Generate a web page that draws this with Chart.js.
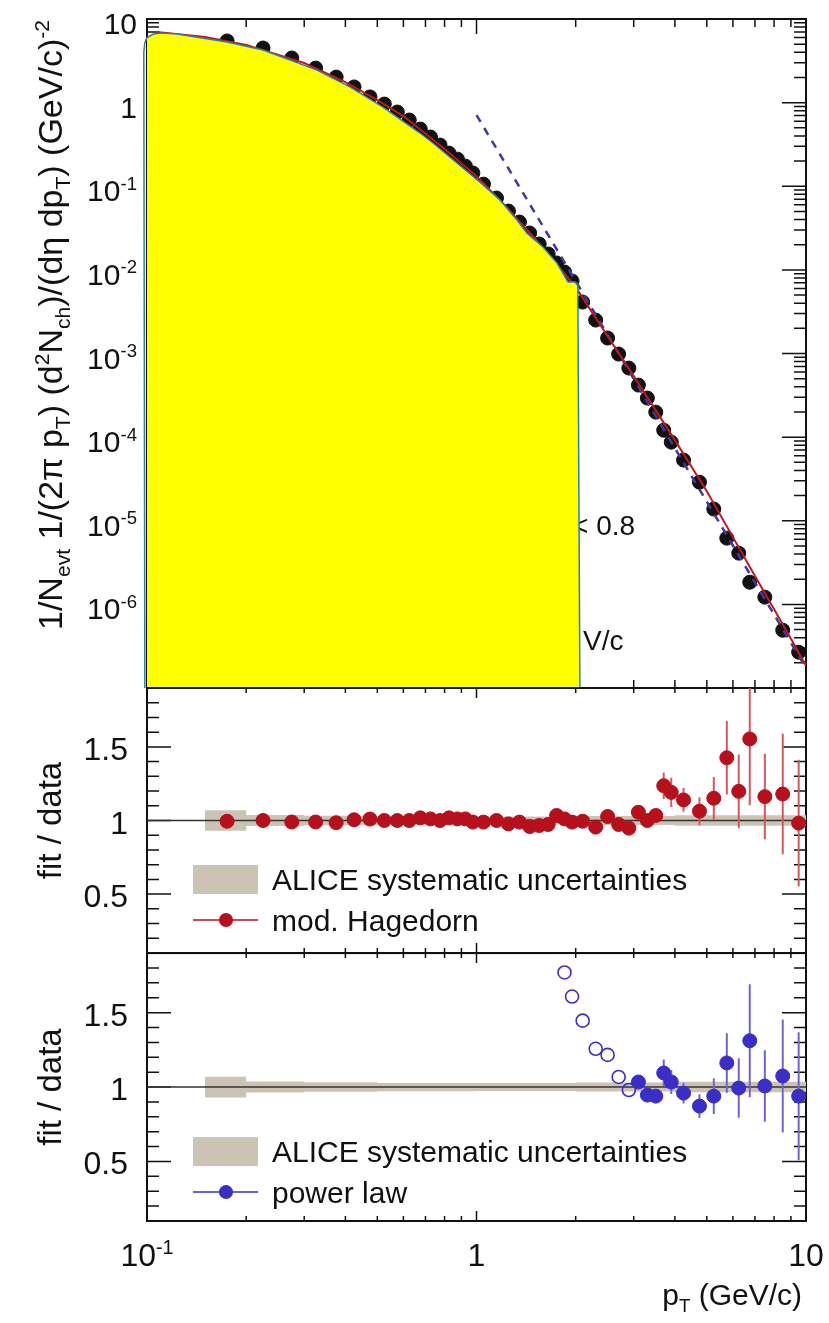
<!DOCTYPE html>
<html>
<head>
<meta charset="utf-8">
<script src="https://cdn.jsdelivr.net/npm/chart.js@4.4.1/dist/chart.umd.min.js"></script>
<style>
  html, body { margin: 0; padding: 0; background: #fff; }
  #wrap { position: relative; width: 829px; height: 1323px; overflow: hidden; }
  #wrap canvas { position: absolute; left: 0; }
</style>
</head>
<body>
<div id="wrap">
  <canvas id="spectrumChart" width="829" height="700" style="top:0px"></canvas>
  <canvas id="hagedornChart" width="829" height="290" style="top:680px"></canvas>
  <canvas id="powerLawChart" width="829" height="378" style="top:945px"></canvas>
</div>
<script>
// ---- values ----
var pT = [0.175, 0.225, 0.275, 0.325, 0.375, 0.425, 0.475, 0.525, 0.575, 0.625, 0.675, 0.725, 0.775, 0.825, 0.875, 0.925, 0.975,
  1.05, 1.15, 1.25, 1.35, 1.45, 1.55, 1.65, 1.75, 1.85, 1.95,
  2.1, 2.3, 2.5, 2.7, 2.9, 3.1, 3.3, 3.5, 3.7, 3.9,
  4.25, 4.75, 5.25, 5.75, 6.25, 6.75, 7.5, 8.5, 9.5];

var spectrum = [5.46, 4.50, 3.42, 2.59, 2.02, 1.54, 1.17, 0.962, 0.772, 0.619, 0.483, 0.388, 0.311, 0.249, 0.211, 0.174, 0.144,
  0.106, 0.0723, 0.0505, 0.0373, 0.0276, 0.0204, 0.0155, 0.0121, 0.00941, 0.00735,
  0.00412, 0.00251, 0.00153, 0.000984, 0.000669, 0.000419, 0.000293, 0.000199, 0.000121, 8.71e-5,
  5.31e-5, 2.89e-5, 1.38e-5, 6.19e-6, 4.10e-6, 1.84e-6, 1.22e-6, 4.91e-7, 2.68e-7];

// fit curves (top panel)
var hagedornPt = [0.107, 0.15, 0.2, 0.3, 0.4, 0.5, 0.6, 0.8, 1.0, 1.2, 1.5, 2.0, 2.5, 3.0, 4.0, 5.0, 6.0, 7.0, 8.0, 9.0, 10.0];
var hagedornVal = [7.0, 6.09, 4.89, 2.98, 1.76, 1.07, 0.691, 0.279, 0.132, 0.063, 0.024, 0.00622, 0.00161, 5.37e-4, 9.2e-5, 2.26e-5, 6.37e-6, 2.19e-6, 8.77e-7, 3.88e-7, 1.85e-7];
var powerLawPt = [1.0, 2.0, 4.0, 10.0];
var powerLawVal = [0.709, 0.00735, 7.38e-5, 1.73e-7];

// yellow cover shape over the top panel
var coverPt = [0.0985, 0.0978, 0.0985, 0.1, 0.1045, 0.1107, 0.1233, 0.175, 0.225, 0.272, 0.328, 0.413, 0.52, 0.674, 0.738,
  1.025, 1.178, 1.327, 1.423, 1.591, 1.755, 1.896, 1.991, 2.03, 2.06];
var coverVal = [1e-7, 4.0, 5.16, 6.01, 6.6, 6.8, 6.6, 5.31, 4.26, 3.23, 2.45, 1.54, 0.886, 0.433, 0.329,
  0.112, 0.0684, 0.0394, 0.0275, 0.01875, 0.01206, 0.00715, 0.00715, 0.0065, 1e-7];

// fit / data, mod. Hagedorn
var ratioHagedorn = [0.995, 1.0, 0.99, 0.99, 0.985, 1.005, 1.01, 1.0, 1.0, 1.0, 1.018, 1.011, 1.0, 1.018, 1.011, 1.011, 0.989,
  0.989, 1.0, 0.977, 0.989, 0.959, 0.966, 0.973, 1.034, 1.011, 0.989,
  0.995, 0.955, 1.027, 0.973, 0.948, 1.056, 1.0, 1.034, 1.236, 1.191,
  1.14, 1.063, 1.151, 1.426, 1.198, 1.554, 1.162, 1.18, 0.982];
var ratioHagedornErr = [0.004, 0.004, 0.004, 0.004, 0.004, 0.004, 0.004, 0.004, 0.004, 0.004, 0.004, 0.004, 0.004, 0.004, 0.004, 0.004, 0.004,
  0.004, 0.004, 0.004, 0.004, 0.004, 0.004, 0.004, 0.004, 0.004, 0.004,
  0.008, 0.008, 0.008, 0.008, 0.008, 0.025, 0.02, 0.03, 0.09, 0.1,
  0.08, 0.095, 0.145, 0.25, 0.25, 0.45, 0.29, 0.41, 0.43];

// fit / data, power law (open markers below 3 GeV/c)
var powerLawRatioPt = [1.85, 1.95, 2.1, 2.3, 2.5, 2.7, 2.9, 3.1, 3.3, 3.5, 3.7, 3.9, 4.25, 4.75, 5.25, 5.75, 6.25, 6.75, 7.5, 8.5, 9.5];
var ratioPowerLaw = [1.77, 1.608, 1.446, 1.257, 1.216, 1.068, 0.98, 1.034, 0.946, 0.939, 1.095, 1.034, 0.959, 0.872, 0.939, 1.162, 0.993, 1.311, 1.007, 1.074, 0.939];
var ratioPowerLawErr = [0.01, 0.01, 0.01, 0.01, 0.01, 0.01, 0.01, 0.025, 0.02, 0.03, 0.09, 0.08, 0.07, 0.08, 0.12, 0.2, 0.2, 0.38, 0.24, 0.38, 0.43];

// ALICE systematic band (half width around 1)
var sysEdges = [0.15, 0.2, 0.3, 0.5, 1.0, 2.0, 4.0, 10.0];
var sysHalfWidth = [0.07, 0.037, 0.032, 0.028, 0.027, 0.03, 0.035, 0.035];

// tick labels
var xTickValues = [0.1, 1, 10];
var xTickLabels = ['10^{-1}', '1', '10'];
var yTickValues = [10, 1, 0.1, 0.01, 0.001, 1e-4, 1e-5, 1e-6];
var yTickLabels = ['10', '1', '10^{-1}', '10^{-2}', '10^{-3}', '10^{-4}', '10^{-5}', '10^{-6}'];
var ratioTickValues = [0.5, 1, 1.5];
var ratioTickLabels = ['0.5', '1', '1.5'];

var FONT = '"Liberation Sans", Arial, Helvetica, sans-serif';
var INK = '#111111';
var BAND = 'rgb(204,195,181)';

// ---- small rich text helper: a^{sup}, a_{sub} ----
function parseRich(str) {
  var segs = [], buf = '', i = 0;
  while (i < str.length) {
    var c = str[i];
    if ((c === '^' || c === '_') && str[i + 1] === '{') {
      if (buf) { segs.push({ t: buf, m: 0 }); buf = ''; }
      var end = str.indexOf('}', i);
      segs.push({ t: str.slice(i + 2, end), m: c === '^' ? 1 : -1 });
      i = end + 1;
    } else { buf += c; i++; }
  }
  if (buf) segs.push({ t: buf, m: 0 });
  return segs;
}
function richWidth(ctx, str, size) {
  var w = 0;
  parseRich(str).forEach(function(s) {
    ctx.font = (s.m ? size * 0.62 : size) + 'px ' + FONT;
    w += ctx.measureText(s.t).width;
  });
  return w;
}
function drawRich(ctx, str, x, y, size, align) {
  var total = richWidth(ctx, str, size);
  var cx = align === 'right' ? x - total : align === 'center' ? x - total / 2 : x;
  ctx.textAlign = 'left';
  ctx.textBaseline = 'alphabetic';
  parseRich(str).forEach(function(s) {
    ctx.font = (s.m ? size * 0.62 : size) + 'px ' + FONT;
    var dy = s.m === 1 ? -size * 0.38 : s.m === -1 ? size * 0.24 : 0;
    ctx.fillText(s.t, cx, y + dy);
    cx += ctx.measureText(s.t).width;
  });
}

function logMinor(e0, e1) {
  var out = [];
  for (var e = e0; e < e1; e++) for (var m = 2; m <= 9; m++) out.push(m * Math.pow(10, e));
  return out;
}
function linMinor() {
  var out = [];
  for (var k = 1; k <= 19; k++) out.push(k / 10);
  return out;
}
function pts(xs, ys) {
  return xs.map(function(x, i) { return { x: x, y: ys[i] }; });
}

// frame, inward ticks, labels
function axesPlugin(opt) {
  return {
    id: 'axesFrame',
    beforeDatasetsDraw: function(chart) {
      var ctx = chart.ctx, a = chart.chartArea, sx = chart.scales.x, sy = chart.scales.y;
      ctx.save();
      ctx.strokeStyle = INK;
      ctx.lineWidth = 1.5;
      ctx.beginPath();
      logMinor(-1, 1).forEach(function(v) {
        var px = sx.getPixelForValue(v);
        ctx.moveTo(px, a.top); ctx.lineTo(px, a.top + opt.xMinor);
        ctx.moveTo(px, a.bottom); ctx.lineTo(px, a.bottom - opt.xMinor);
      });
      xTickValues.forEach(function(v) {
        var px = sx.getPixelForValue(v);
        ctx.moveTo(px, a.top); ctx.lineTo(px, a.top + opt.xMajor);
        ctx.moveTo(px, a.bottom); ctx.lineTo(px, a.bottom - opt.xMajor);
      });
      opt.yMinorTicks.forEach(function(v) {
        var py = sy.getPixelForValue(v);
        if (py < a.top - 0.5 || py > a.bottom + 0.5) return;
        ctx.moveTo(a.left, py); ctx.lineTo(a.left + 12, py);
        ctx.moveTo(a.right, py); ctx.lineTo(a.right - 12, py);
      });
      opt.yTicks.forEach(function(v) {
        var py = sy.getPixelForValue(v);
        ctx.moveTo(a.left, py); ctx.lineTo(a.left + 24, py);
        ctx.moveTo(a.right, py); ctx.lineTo(a.right - 24, py);
      });
      ctx.stroke();
      ctx.lineWidth = 2;
      ctx.strokeRect(a.left, a.top, a.right - a.left, a.bottom - a.top);
      ctx.fillStyle = INK;
      if (opt.under) opt.under(chart);
      ctx.restore();
    },
    afterDraw: function(chart) {
      var ctx = chart.ctx, a = chart.chartArea, sx = chart.scales.x, sy = chart.scales.y;
      ctx.save();
      ctx.fillStyle = INK;
      opt.yTicks.forEach(function(v, i) {
        drawRich(ctx, opt.yLabels[i], a.left - opt.labelGap, sy.getPixelForValue(v) + opt.labelDrop, opt.labelSize, 'right');
      });
      if (opt.over) opt.over(chart);
      ctx.restore();
    }
  };
}

function errorBarPlugin(dsIndex, xs, ys, errs, color) {
  return {
    id: 'errorBars',
    beforeDatasetDraw: function(chart, args) {
      if (args.index !== dsIndex) return;
      var ctx = chart.ctx, a = chart.chartArea, sx = chart.scales.x, sy = chart.scales.y;
      ctx.save();
      ctx.beginPath();
      ctx.rect(a.left, a.top, a.right - a.left, a.bottom - a.top);
      ctx.clip();
      ctx.strokeStyle = color;
      ctx.lineWidth = 2;
      ctx.beginPath();
      xs.forEach(function(x, i) {
        var px = sx.getPixelForValue(x);
        ctx.moveTo(px, sy.getPixelForValue(ys[i] + errs[i]));
        ctx.lineTo(px, sy.getPixelForValue(ys[i] - errs[i]));
      });
      ctx.stroke();
      ctx.restore();
    }
  };
}

function drawLegend(ctx, a, top, color, label) {
  ctx.fillStyle = BAND;
  ctx.fillRect(a.left + 46, a.top + top, 65, 29);
  ctx.fillStyle = INK;
  drawRich(ctx, 'ALICE systematic uncertainties', a.left + 125, a.top + top + 25, 30, 'left');
  var ly = a.top + top + 55;
  ctx.strokeStyle = color;
  ctx.lineWidth = 1.5;
  ctx.beginPath(); ctx.moveTo(a.left + 46, ly); ctx.lineTo(a.left + 111, ly); ctx.stroke();
  ctx.fillStyle = color;
  ctx.beginPath(); ctx.arc(a.left + 79, ly, 7, 0, Math.PI * 2); ctx.fill();
  ctx.fillStyle = INK;
  drawRich(ctx, label, a.left + 125, ly + 11, 30, 'left');
}

function ratioTitle(chart) {
  var ctx = chart.ctx;
  ctx.save();
  ctx.translate(61, chart.scales.y.getPixelForValue(1));
  ctx.rotate(-Math.PI / 2);
  ctx.fillStyle = INK;
  drawRich(ctx, 'fit / data', 0, 0, 33, 'center');
  ctx.restore();
}

function bandDatasets() {
  return [{
    data: pts(sysEdges, sysHalfWidth.map(function(h) { return 1 - h; })),
    showLine: true, stepped: true, borderWidth: 0, pointRadius: 0,
    backgroundColor: BAND, fill: '+1'
  }, {
    data: pts(sysEdges, sysHalfWidth.map(function(h) { return 1 + h; })),
    showLine: true, stepped: true, borderWidth: 0, pointRadius: 0, fill: false
  }];
}

function unityLine() {
  return {
    data: pts([0.1, 10], [1, 1]), showLine: true,
    borderColor: '#333', borderWidth: 1.5, pointRadius: 0
  };
}

function baseOptions(padding, yScale) {
  return {
    responsive: false,
    animation: false,
    layout: { padding: padding },
    plugins: { legend: { display: false }, tooltip: { enabled: false } },
    scales: {
      x: { type: 'logarithmic', min: 0.1, max: 10, display: false },
      y: yScale
    }
  };
}

// ---- top panel: spectrum ----
new Chart(document.getElementById('spectrumChart').getContext('2d'), {
  type: 'scatter',
  data: {
    datasets: [{
      data: pts(coverPt, coverVal), showLine: true, fill: 'start',
      backgroundColor: '#ffff00', borderColor: '#2f7bb0', borderWidth: 1.5, pointRadius: 0,
      clip: { left: 6, top: 0, right: 0, bottom: 0 }
    }, {
      data: pts(hagedornPt, hagedornVal), showLine: true,
      borderColor: '#c4161f', borderWidth: 2, pointRadius: 0
    }, {
      data: pts(powerLawPt, powerLawVal), showLine: true,
      borderColor: '#3b3aa8', borderWidth: 2.5, borderDash: [8, 7], pointRadius: 0
    }, {
      data: pts(pT, spectrum), pointRadius: 7, pointBackgroundColor: INK, pointBorderColor: INK, clip: 10
    }]
  },
  options: baseOptions({ left: 147, right: 23, top: 19, bottom: 12 },
    { type: 'logarithmic', min: 1e-7, max: 10, display: false }),
  plugins: [axesPlugin({
    xMinor: 8, xMajor: 15,
    yTicks: [1e-7].concat(yTickValues), yLabels: [''].concat(yTickLabels),
    yMinorTicks: logMinor(-7, 1),
    labelGap: 10, labelDrop: 15, labelSize: 30,
    under: function(chart) {
      var ctx = chart.ctx;
      drawRich(ctx, '< 0.8', 572, 535, 28, 'left');
      drawRich(ctx, 'V/c', 583, 650, 28, 'left');
    },
    over: function(chart) {
      var ctx = chart.ctx;
      var title = '1/N_{evt} 1/(2\u03c0 p_{T}) (d^{2}N_{ch})/(d\u03b7 dp_{T}) (GeV/c)^{-2}';
      var size = 30 * 610 / richWidth(ctx, title, 30);
      ctx.save();
      ctx.translate(62, 630);
      ctx.rotate(-Math.PI / 2);
      drawRich(ctx, title, 0, 0, size, 'left');
      ctx.restore();
    }
  })]
});

// ---- middle panel: fit / data, mod. Hagedorn ----
new Chart(document.getElementById('hagedornChart').getContext('2d'), {
  type: 'scatter',
  data: {
    datasets: [{
      data: pts(pT, ratioHagedorn), pointRadius: 7,
      pointBackgroundColor: '#b5101b', pointBorderColor: '#b5101b', clip: 10
    }, unityLine()].concat(bandDatasets())
  },
  options: baseOptions({ left: 147, right: 23, top: 8, bottom: 17 },
    { type: 'linear', min: 0.1, max: 1.9, display: false }),
  plugins: [
    axesPlugin({
      xMinor: 5, xMajor: 10,
      yTicks: ratioTickValues, yLabels: ratioTickLabels, yMinorTicks: linMinor(),
      labelGap: 19, labelDrop: 13, labelSize: 32,
      over: function(chart) {
        ratioTitle(chart);
        drawLegend(chart.ctx, chart.chartArea, 177, '#b5101b', 'mod. Hagedorn');
      }
    }),
    errorBarPlugin(0, pT, ratioHagedorn, ratioHagedornErr, 'rgb(214,86,96)')
  ]
});

// ---- bottom panel: fit / data, power law ----
var openPt = [], openVal = [], fullPt = [], fullVal = [], fullErr = [];
powerLawRatioPt.forEach(function(x, i) {
  if (x < 3) { openPt.push(x); openVal.push(ratioPowerLaw[i]); }
  else { fullPt.push(x); fullVal.push(ratioPowerLaw[i]); fullErr.push(ratioPowerLawErr[i]); }
});

new Chart(document.getElementById('powerLawChart').getContext('2d'), {
  type: 'scatter',
  data: {
    datasets: [{
      data: pts(fullPt, fullVal), pointRadius: 7,
      pointBackgroundColor: '#3a2ec6', pointBorderColor: '#3a2ec6', clip: 10
    }, {
      data: pts(openPt, openVal), pointRadius: 6.5, pointBorderWidth: 1.6,
      pointBackgroundColor: 'rgba(255,255,255,0)', pointBorderColor: '#3a2ec6', clip: 10
    }, unityLine()].concat(bandDatasets())
  },
  options: baseOptions({ left: 147, right: 23, top: 8, bottom: 102 },
    { type: 'linear', min: 0.1, max: 1.9, display: false }),
  plugins: [
    axesPlugin({
      xMinor: 5, xMajor: 10,
      yTicks: ratioTickValues, yLabels: ratioTickLabels, yMinorTicks: linMinor(),
      labelGap: 19, labelDrop: 13, labelSize: 32,
      over: function(chart) {
        var ctx = chart.ctx, a = chart.chartArea, sx = chart.scales.x;
        ratioTitle(chart);
        drawLegend(ctx, a, 184, '#3a2ec6', 'power law');
        ctx.fillStyle = INK;
        xTickValues.forEach(function(v, i) {
          drawRich(ctx, xTickLabels[i], sx.getPixelForValue(v), a.bottom + 45, 32, 'center');
        });
        drawRich(ctx, 'p_{T} (GeV/c)', a.right - 4, a.bottom + 84, 30, 'right');
      }
    }),
    errorBarPlugin(0, fullPt, fullVal, fullErr, 'rgb(112,100,212)')
  ]
});
</script>
</body>
</html>
